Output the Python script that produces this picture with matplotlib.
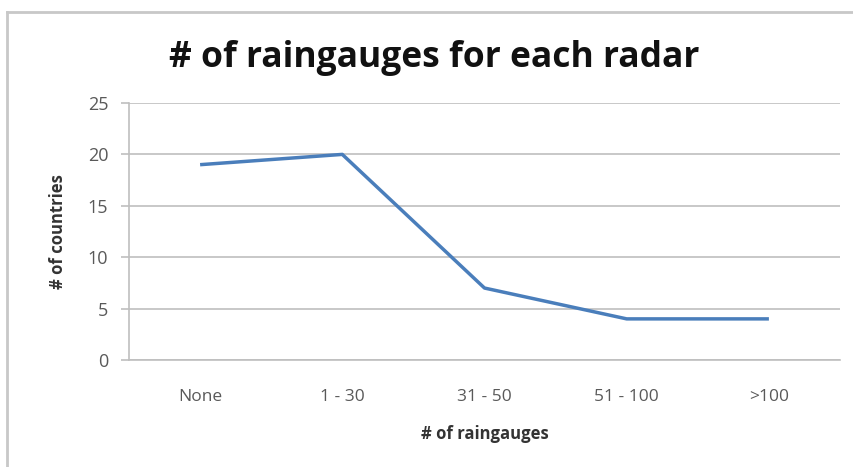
import matplotlib
matplotlib.use("Agg")
import matplotlib.pyplot as plt
from matplotlib.lines import Line2D

categories = ["None", "1 - 30", "31 - 50", "51 - 100", ">100"]
countries = [19, 20, 7, 4, 4]
y_ticks = [0, 5, 10, 15, 20, 25]

plt.rcParams['font.family'] = ['Open Sans', 'DejaVu Sans']

fig = plt.figure(figsize=(8.54, 4.67), dpi=100)
ax = fig.add_axes([129/854, 1-360/467, (840-129)/854, (360-103)/467])

x = list(range(len(categories)))
ax.plot(x, countries, color="#4a7ebb", linewidth=2.5, solid_capstyle="butt")
ax.set_xlim(-0.5, len(categories) - 0.5)
ax.set_ylim(0, 25)
ax.set_yticks(y_ticks)
ax.set_xticks(x)
ax.set_xticklabels(categories)
ax.yaxis.grid(True, color="#bfbfbf", linewidth=1.2)
ax.set_axisbelow(True)
for s in ["top", "right"]:
    ax.spines[s].set_visible(False)
ax.spines["left"].set_color("#bfbfbf")
ax.spines["bottom"].set_color("#bfbfbf")
ax.spines["left"].set_linewidth(1.2)
ax.spines["bottom"].set_linewidth(1.2)
ax.tick_params(axis="y", length=6, width=1.2, color="#bfbfbf", labelsize=13, labelcolor="#595959", pad=9)
ax.tick_params(axis="x", length=0, labelsize=12.5, labelcolor="#595959", pad=21)

ax.set_xlabel("# of raingauges", fontsize=12, fontweight="bold", color="#333333", labelpad=14)
ax.set_ylabel("# of countries", fontsize=12, fontweight="bold", color="#333333", labelpad=15)
fig.text(0.508, 1-58/467, "# of raingauges for each radar", fontsize=25.5, fontweight="bold",
         ha="center", va="center", color="#111111")

fig.add_artist(Line2D([7/854, 7/854], [0, 1-12/467], transform=fig.transFigure, color="#c8c8c8", linewidth=2))
fig.add_artist(Line2D([7/854, 1], [1-12/467, 1-12/467], transform=fig.transFigure, color="#c8c8c8", linewidth=2))

fig.savefig("out.png", dpi=100)
